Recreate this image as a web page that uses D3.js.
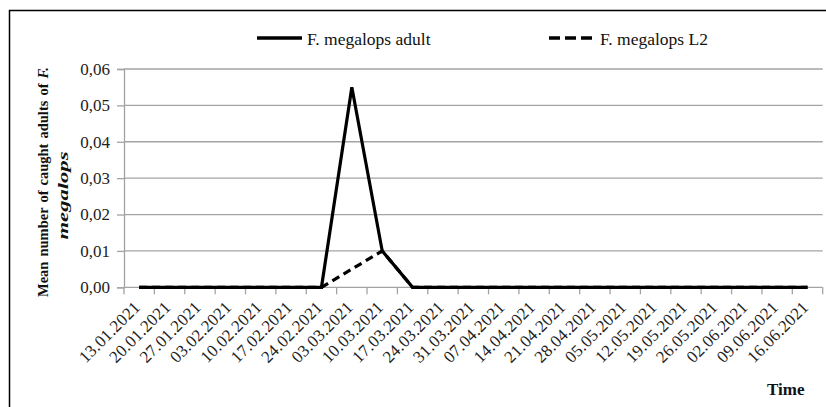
<!DOCTYPE html>
<html>
<head>
<meta charset="utf-8">
<script src="https://cdn.jsdelivr.net/npm/d3@7"></script>
<style>
  html, body { margin: 0; padding: 0; background: #fff; }
  svg { display: block; }
  svg text { font-family: "Liberation Serif", "Times New Roman", Times, serif; }
</style>
</head>
<body>
<svg id="chart" width="826" height="407"></svg>
<script>
// Sampling dates (weekly)
const dates = [
  "13.01.2021", "20.01.2021", "27.01.2021", "03.02.2021", "10.02.2021",
  "17.02.2021", "24.02.2021", "03.03.2021", "10.03.2021", "17.03.2021",
  "24.03.2021", "31.03.2021", "07.04.2021", "14.04.2021", "21.04.2021",
  "28.04.2021", "05.05.2021", "12.05.2021", "19.05.2021", "26.05.2021",
  "02.06.2021", "09.06.2021", "16.06.2021"
];
// Mean number of caught individuals per trap
const adultValues = [
  0, 0, 0, 0, 0, 0, 0, 0.055, 0.01, 0, 0, 0, 0, 0, 0, 0, 0, 0, 0, 0, 0, 0, 0
];
const l2Values = [
  0, 0, 0, 0, 0, 0, 0, 0.005, 0.01, 0, 0, 0, 0, 0, 0, 0, 0, 0, 0, 0, 0, 0, 0
];
const yTickValues = [0, 0.01, 0.02, 0.03, 0.04, 0.05, 0.06];
const seriesNames = ["F. megalops adult", "F. megalops L2"];

const serif = "'Liberation Serif', 'Times New Roman', Times, serif";
const svg = d3.select("#chart");
const plotLeft = 124, plotRight = 822.7, plotTop = 69, plotBottom = 287.3;

const x = d3.scaleBand().domain(dates).range([plotLeft, plotRight]);
const y = d3.scaleLinear().domain([0, 0.06]).range([plotBottom, plotTop]);
const fmt = d3.formatLocale({ decimal: ",", thousands: " ", grouping: [3], currency: ["", ""] }).format(".2f");

// Outer frame
svg.append("rect")
  .attr("x", 9.5).attr("y", 10.5)
  .attr("width", 840).attr("height", 420)
  .attr("fill", "none").attr("stroke", "#000").attr("stroke-width", 1.5);

// Horizontal gridlines
svg.append("g")
  .selectAll("line")
  .data(yTickValues)
  .join("line")
  .attr("x1", plotLeft).attr("x2", plotRight)
  .attr("y1", d => y(d)).attr("y2", d => y(d))
  .attr("stroke", "#a3a3a3").attr("stroke-width", 1.3);

// Y axis
const yAxis = svg.append("g")
  .attr("transform", `translate(${plotLeft},0)`)
  .call(d3.axisLeft(y).tickValues(yTickValues).tickFormat(fmt).tickSize(7).tickPadding(7));
yAxis.attr("font-family", serif);
yAxis.select(".domain").attr("stroke", "#a3a3a3").attr("stroke-width", 1.3);
yAxis.selectAll(".tick line").attr("stroke", "#a3a3a3").attr("stroke-width", 1.3);
yAxis.selectAll(".tick text")
  .attr("font-size", 17).attr("fill", "#222");

// X axis: ticks between categories
const boundaries = dates.map(d => x(d)).concat([x(dates[dates.length - 1]) + x.bandwidth()]);
svg.append("g")
  .selectAll("line")
  .data(boundaries)
  .join("line")
  .attr("x1", d => d).attr("x2", d => d)
  .attr("y1", plotBottom).attr("y2", plotBottom + 7)
  .attr("stroke", "#a3a3a3").attr("stroke-width", 1.3);

// X tick labels, rotated
svg.append("g")
  .selectAll("text")
  .data(dates)
  .join("text")
  .attr("transform", d => `translate(${x(d) + x.bandwidth() / 2 + 2},${plotBottom + 21}) rotate(-45)`)
  .attr("text-anchor", "end")
  .attr("font-size", 17)
  .attr("letter-spacing", 0.2)
  .attr("fill", "#222")
  .text(d => d);

// Series lines
const line = d3.line()
  .x((d, i) => x(dates[i]) + x.bandwidth() / 2)
  .y(d => y(d));

svg.append("path")
  .datum(l2Values)
  .attr("d", line)
  .attr("fill", "none").attr("stroke", "#000").attr("stroke-width", 3.2)
  .attr("stroke-dasharray", "8,5");

svg.append("path")
  .datum(adultValues)
  .attr("d", line)
  .attr("fill", "none").attr("stroke", "#000").attr("stroke-width", 3.2)
  .attr("stroke-linejoin", "miter");

// Legend
const legend = svg.append("g");
legend.append("line")
  .attr("x1", 257).attr("x2", 302).attr("y1", 38).attr("y2", 38)
  .attr("stroke", "#000").attr("stroke-width", 3.5);
legend.append("text")
  .attr("x", 307).attr("y", 45).attr("font-size", 17.5).attr("fill", "#111")
  .text(seriesNames[0]);
legend.append("line")
  .attr("x1", 549).attr("x2", 594).attr("y1", 38).attr("y2", 38)
  .attr("stroke", "#000").attr("stroke-width", 3.5)
  .attr("stroke-dasharray", "11,5");
legend.append("text")
  .attr("x", 600).attr("y", 45).attr("font-size", 17.5).attr("fill", "#111")
  .text(seriesNames[1]);

// Y axis title (two lines, first line justified)
const t1 = svg.append("text")
  .attr("transform", "translate(48,182) rotate(-90)")
  .attr("text-anchor", "middle")
  .attr("font-size", 14.5).attr("font-weight", "bold").attr("fill", "#111");
t1.append("tspan").text("Mean number of caught adults of ");
t1.append("tspan").attr("font-style", "italic").text("F.");
const targetLen = 230;
const natural = t1.node().getComputedTextLength();
t1.attr("word-spacing", Math.max(0, (targetLen - natural) / 6));

svg.append("text")
  .attr("transform", "translate(67.5,195.5) rotate(-90)")
  .attr("text-anchor", "middle")
  .attr("font-size", 14.5).attr("font-weight", "bold").attr("font-style", "italic").attr("fill", "#111")
  .attr("textLength", 88).attr("lengthAdjust", "spacingAndGlyphs")
  .text("megalops");

// X axis title
svg.append("text")
  .attr("x", 767).attr("y", 395)
  .attr("font-size", 17).attr("font-weight", "bold").attr("fill", "#111")
  .text("Time");
</script>
</body>
</html>
